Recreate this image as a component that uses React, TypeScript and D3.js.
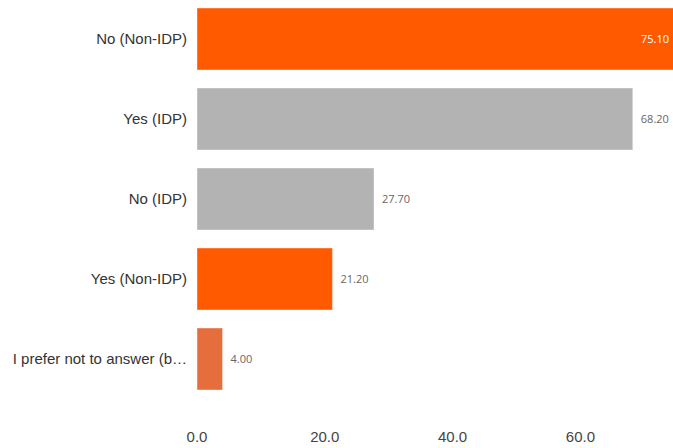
import React from "react";
import * as d3 from "d3";

const categories = [
  "No (Non-IDP)",
  "Yes (IDP)",
  "No (IDP)",
  "Yes (Non-IDP)",
  "I prefer not to answer (b…",
];
const values = [75.1, 68.2, 27.7, 21.2, 4.0];
const colors = ["#FF5A00", "#B3B3B3", "#B3B3B3", "#FF5A00", "#E66E3C"];
const ticks = [0, 20, 40, 60];

const W = 673;
const H = 448;

export default function App() {
  const x = d3.scaleLinear().domain([0, 75.1]).range([197, 197 + 75.1 * 6.39]);
  const y = d3
    .scaleBand<string>()
    .domain(categories)
    .range([-1, 399])
    .paddingInner(0.225)
    .paddingOuter(0.1125);
  const fmt = d3.format(".2f");
  const tfmt = d3.format(".1f");
  return (
    <svg
      width={W}
      height={H}
      style={{ position: "absolute", left: 0, top: 0, background: "#fff" }}
    >
      <defs>
        <clipPath id="clip">
          <rect x={0} y={0} width={W} height={H} />
        </clipPath>
      </defs>
      <g clipPath="url(#clip)">
        {categories.map((c, i) => {
          const by = y(c)!;
          const bh = y.bandwidth();
          const xe = x(values[i]);
          const inside = xe > W - 40;
          return (
            <g key={c}>
              <rect
                x={x(0)}
                y={by}
                width={xe - x(0)}
                height={bh}
                fill={colors[i]}
                stroke="#ffffff"
                strokeOpacity={0.4}
                strokeWidth={1}
              />
              <text
                x={187}
                y={by + bh / 2}
                dy="0.35em"
                textAnchor="end"
                fontFamily="'Liberation Sans', Arial, sans-serif"
                fontSize={15}
                fill="#333"
              >
                {c}
              </text>
              <text
                x={inside ? W - 4 : xe + 8}
                y={by + bh / 2}
                dy="0.35em"
                textAnchor={inside ? "end" : "start"}
                fontFamily="'Open Sans', sans-serif"
                fontSize={11}
                fill={inside ? "#fff" : "#666"}
              >
                {fmt(values[i])}
              </text>
            </g>
          );
        })}
        {ticks.map((t) => (
          <text
            key={t}
            x={x(t)}
            y={437}
            dy="0.35em"
            textAnchor="middle"
            fontFamily="'Liberation Sans', Arial, sans-serif"
            fontSize={15}
            fill="#444"
          >
            {tfmt(t)}
          </text>
        ))}
      </g>
    </svg>
  );
}
